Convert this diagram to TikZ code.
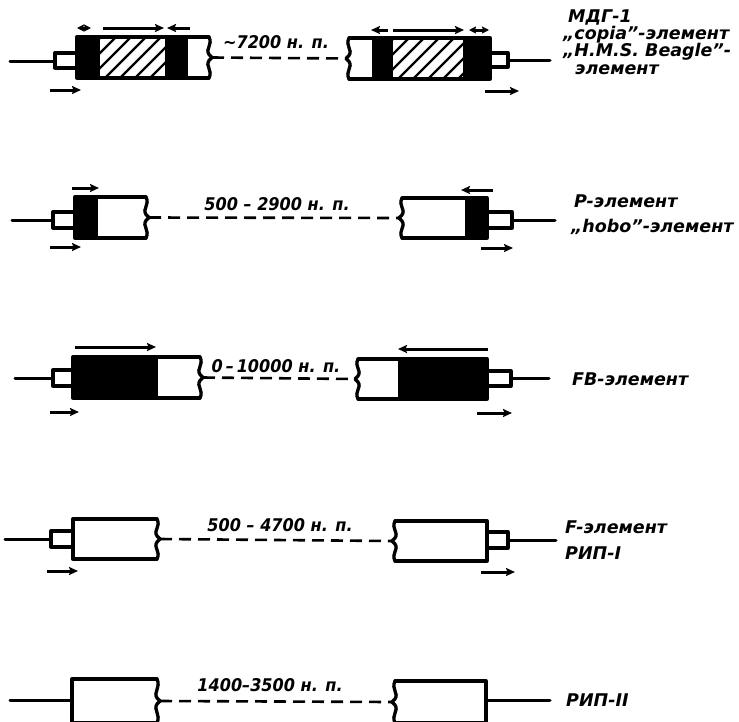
\documentclass[tikz,border=0pt]{standalone}
\usepackage{fontspec}
\newfontfamily\labfont{DejaVu Sans}
\newfontfamily\midfont{DejaVu Sans}[FakeStretch=0.92]
\usetikzlibrary{arrows.meta}
\tikzset{
  outline/.style={line width=3.3pt, line join=round, line cap=round},
  wire/.style={line width=3pt, line cap=round},
  gapline/.style={line width=2.6pt, dash pattern=on 12pt off 7pt},
  dirarrow/.style={line width=3pt, -{Stealth[length=9pt,width=8pt,inset=1.5pt]}},
  dblarrow/.style={line width=3pt, {Stealth[length=7pt,width=7pt,inset=1pt]}-{Stealth[length=7pt,width=7pt,inset=1pt]}},
  hatchline/.style={line width=2.4pt},
  lab/.style={font=\labfont\bfseries\itshape\fontsize{17.5}{20}\selectfont, inner sep=0pt},
  midlab/.style={font=\midfont\bfseries\itshape\fontsize{17.5}{20}\selectfont, inner sep=0pt},
  rlab/.style={lab, anchor=west},
}
% wavy broken edge: #1 name of joint, #2 x, #3 top, #4 bottom, #5 side (+1 right, -1 left)
\newcommand\mywavy[5]{%
  \draw[outline] (#2,#3) .. controls ({#2+#5*4},{#3+0.2*(#4-#3)}) and ({#2-#5*4},{(#3+#4)/2-9}) ..
    ({#2},{(#3+#4)/2-3}) -- ({#2+#5*3},{(#3+#4)/2}) coordinate (#1) -- ({#2},{(#3+#4)/2+3})
    .. controls ({#2-#5*4},{(#3+#4)/2+9}) and ({#2+#5*4},{#4-0.2*(#4-#3)}) .. (#2,#4);}
\begin{document}
\begin{tikzpicture}[x=1pt,y=-1pt]
\useasboundingbox (0,0) rectangle (739,721);
\fill[white] (0,0) rectangle (739,721);

% ---------------- Row 1 ----------------
\fill (77,37) rectangle (100,78);
\fill (165,37) rectangle (188,78);
\begin{scope}
  \clip (100,37) rectangle (165,78);
  \foreach \k in {0,...,7} \draw[hatchline] ({60+\k*15},78) -- ++(45,-45);
\end{scope}
\draw[outline] (209,37) -- (77,37) -- (77,78) -- (209,78);
\mywavy{w1a}{209}{37}{78}{1}
\draw[outline] (77,53) -- (55,53) -- (55,68) -- (77,68);
\coordinate (s1a) at (55,61);
\coordinate (e1a) at (10,61);
\draw[wire] (e1a) -- (s1a);

\fill (372,38) rectangle (393,79);
\fill (463,38) rectangle (490,79);
\begin{scope}
  \clip (393,38) rectangle (463,79);
  \foreach \k in {0,...,7} \draw[hatchline] ({353+\k*15},79) -- ++(45,-45);
\end{scope}
\draw[outline] (349,38) -- (490,38) -- (490,79) -- (349,79);
\mywavy{w1b}{349}{38}{79}{-1}
\draw[outline] (490,53) -- (508,53) -- (508,67) -- (490,67);
\coordinate (s1b) at (508,60);
\coordinate (e1b) at (550,60);
\draw[wire] (s1b) -- (e1b);
\draw[gapline] (w1a) -- (w1b);

\draw[dblarrow] (77,28) -- (91,28);
\draw[dirarrow] (103,28) -- (164,28);
\draw[dirarrow] (190,28) -- (167,28);
\draw[dirarrow] (50,90) -- (81,90);
\draw[dirarrow] (388,30) -- (371,30);
\draw[dirarrow] (393,30) -- (464,30);
\draw[dblarrow] (469,30) -- (489,30);
\draw[dirarrow] (485,91) -- (519,91);

\node[midlab] (l1) at (276,42) {∼7200 н. п.};
\node[rlab] (t1a) at (568,17) {МДГ-1};
\node[rlab] (t1b) at (563,35) {„copia”-элемент};
\node[rlab] (t1c) at (563,52) {„H.M.S. Beagle”-};
\node[rlab] (t1d) at (575,70) {элемент};

% ---------------- Row 2 ----------------
\fill (75,197) rectangle (98,238);
\draw[outline] (146,197) -- (75,197) -- (75,238) -- (146,238);
\mywavy{w2a}{146}{197}{238}{1}
\draw[outline] (75,212) -- (53,212) -- (53,228) -- (75,228);
\coordinate (s2a) at (53,220);
\coordinate (e2a) at (12,220);
\draw[wire] (e2a) -- (s2a);

\fill (465,198) rectangle (487,238);
\draw[outline] (402,198) -- (487,198) -- (487,238) -- (402,238);
\mywavy{w2b}{402}{198}{238}{-1}
\draw[outline] (487,212) -- (512,212) -- (512,228) -- (487,228);
\coordinate (s2b) at (512,220);
\coordinate (e2b) at (555,220);
\draw[wire] (s2b) -- (e2b);
\draw[gapline] (w2a) -- (w2b);

\draw[dirarrow] (72,188) -- (99,188);
\draw[dirarrow] (50,247) -- (81,247);
\draw[dirarrow] (493,190) -- (461,190);
\draw[dirarrow] (481,248) -- (513,248);

\node[midlab] (l2) at (277,204) {500 – 2900 н. п.};
\node[rlab] (t2a) at (574,201) {P-элемент};
\node[rlab] (t2b) at (571,227) {„hobo”-элемент};

% ---------------- Row 3 ----------------
\fill (73,357) rectangle (158,398);
\draw[outline] (200,357) -- (73,357) -- (73,398) -- (200,398);
\mywavy{w3a}{200}{357}{398}{1}
\draw[outline] (73,370) -- (53,370) -- (53,386) -- (73,386);
\coordinate (s3a) at (53,378);
\coordinate (e3a) at (15,378);
\draw[wire] (e3a) -- (s3a);

\fill (398,359) rectangle (487,399);
\draw[outline] (358,359) -- (487,359) -- (487,399) -- (358,399);
\mywavy{w3b}{358}{359}{399}{-1}
\draw[outline] (487,371) -- (511,371) -- (511,386) -- (487,386);
\coordinate (s3b) at (511,378);
\coordinate (e3b) at (549,378);
\draw[wire] (s3b) -- (e3b);
\draw[gapline] (w3a) -- (w3b);

\draw[dirarrow] (75,347) -- (156,347);
\draw[dirarrow] (50,412) -- (79,412);
\draw[dirarrow] (488,349) -- (398,349);
\draw[dirarrow] (477,413) -- (512,413);

\node[midlab] (l3) at (276,366) {0\,–\,10000 н. п.};
\node[rlab] (t3a) at (572,379) {FB-элемент};

% ---------------- Row 4 ----------------
\draw[outline] (157,519) -- (73,519) -- (73,559) -- (157,559);
\mywavy{w4a}{157}{519}{559}{1}
\draw[outline] (73,531) -- (51,531) -- (51,547) -- (73,547);
\coordinate (s4a) at (51,539);
\coordinate (e4a) at (5,539);
\draw[wire] (e4a) -- (s4a);

\draw[outline] (395,521) -- (487,521) -- (487,561) -- (395,561);
\mywavy{w4b}{395}{521}{561}{-1}
\draw[outline] (487,532) -- (508,532) -- (508,548) -- (487,548);
\coordinate (s4b) at (508,540);
\coordinate (e4b) at (556,540);
\draw[wire] (s4b) -- (e4b);
\draw[gapline] (w4a) -- (w4b);

\draw[dirarrow] (47,571) -- (78,571);
\draw[dirarrow] (481,572) -- (515,572);

\node[midlab] (l4) at (280,525) {500 – 4700 н. п.};
\node[rlab] (t4a) at (565,527) {F-элемент};
\node[rlab] (t4b) at (565,553) {РИП-I};

% ---------------- Row 5 ----------------
\draw[outline] (157,679) -- (72,679) -- (72,723) -- (157,723);
\mywavy{w5a}{157}{679}{723}{1}
\coordinate (e5a) at (10,700);
\coordinate (s5a) at (72,700);
\draw[wire] (e5a) -- (s5a);

\draw[outline] (395,681) -- (486,681) -- (486,723) -- (395,723);
\mywavy{w5b}{395}{681}{723}{-1}
\coordinate (s5b) at (486,700);
\coordinate (e5b) at (550,700);
\draw[wire] (s5b) -- (e5b);
\draw[gapline] (w5a) -- (w5b);

\node[midlab] (l5) at (270,685) {1400–3500 н. п.};
\node[rlab] (t5a) at (566,700) {РИП-II};
\end{tikzpicture}
\end{document}
